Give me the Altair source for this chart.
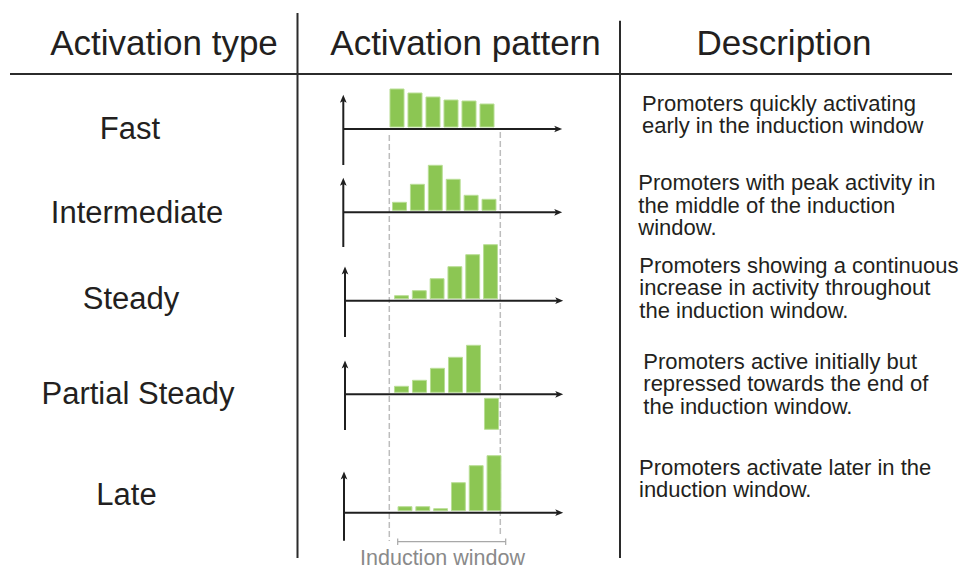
import altair as alt
import pandas as pd

# ---------------- data ----------------
header_labels = ["Activation type", "Activation pattern", "Description"]
activation_types = ["Fast", "Intermediate", "Steady", "Partial Steady", "Late"]
time_steps = [1, 2, 3, 4, 5, 6]
fast_values = [40, 36, 32, 29, 28, 25]
intermediate_values = [10, 28, 47, 33, 17, 13]
steady_values = [5, 10, 22, 34, 46, 56]
partial_steady_values = [8, 14, 26, 37, 49, -35]
late_values = [6, 6, 4, 30, 47, 57]
descriptions = [
    "Promoters quickly activating\nearly in the induction window",
    "Promoters with peak activity in\nthe middle of the induction\nwindow.",
    "Promoters showing a continuous\nincrease in activity throughout\nthe induction window.",
    "Promoters active initially but\nrepressed towards the end of\nthe induction window.",
    "Promoters activate later in the\ninduction window.",
]
window_label = ["Induction window"]

series = [fast_values, intermediate_values, steady_values,
          partial_steady_values, late_values]

# ---------------- layout (page pixels) ----------------
OFF = 8
W, H = 952, 560
FONT = "Liberation Sans"
INK = "#231f20"


def p(v):
    return v - OFF


header_cx = [164, 465.5, 784]
header_base = 55

label_cx = [130, 137, 131, 138, 126.5]
label_base = [139, 222.7, 309.3, 404, 505]
axis_x = [343.3, 343.3, 345, 345, 344]
axis_y = [129, 212.3, 300.7, 394.3, 512.7]
axis_top = [95, 178, 266.7, 360.7, 471.7]
axis_bottom = [165, 247, 337, 430, 540.7]
axis_end = [562, 562, 563, 563, 563]
bar_first = [397, 399.5, 401.5, 401.5, 405]
bar_last = [487, 489, 490.5, 491.5, 494]
desc_x = [642, 638.3, 639.3, 643.3, 639]
desc_base = [110.5, 190, 272.5, 368.5, 474.5]
DESC_SIZE = 22
DESC_LH = 22.6

ARROW = 4        # arrowhead half-length
HALF_BAR = 0.39  # half bar width, in time-step units


def rules(rows, color, width, dash=None):
    df = pd.DataFrame(rows, columns=["x", "x2", "y", "y2"])
    for c in df.columns:
        df[c] = df[c] - OFF
    mk = dict(color=color, strokeWidth=width)
    if dash:
        mk["strokeDash"] = dash
    return alt.Chart(df).mark_rule(**mk).encode(
        x=alt.X("x:Q", scale=None), x2="x2:Q",
        y=alt.Y("y:Q", scale=None), y2="y2:Q")


def texts(txt, xs, ys, size, color=INK, align="center", lh=None):
    df = pd.DataFrame({"t": txt, "x": [p(v) for v in xs], "y": [p(v) for v in ys]})
    mk = dict(font=FONT, fontSize=size, color=color, align=align,
              baseline="alphabetic", lineBreak="\n")
    if lh:
        mk["lineHeight"] = lh
    return alt.Chart(df).mark_text(**mk).encode(
        x=alt.X("x:Q", scale=None), y=alt.Y("y:Q", scale=None), text="t:N")


layers = []

# table grid
layers.append(rules([[10, 952, 74, 74],
                     [297.5, 297.5, 13, 558],
                     [620, 620, 20.7, 558]], "#2b2b2b", 2))

# dashed induction window guides
layers.append(rules([[389.3, 389.3, 135, 541],
                     [500.3, 500.3, 132, 537]], "#bdbdbd", 1.5, [6, 3]))

# induction window bracket
layers.append(rules([[397.7, 505.7, 541.7, 541.7],
                     [397.7, 397.7, 538.5, 545],
                     [505.7, 505.7, 538.5, 545]], "#a8a8a8", 1.2))

# bars per row, through their own scales
for i, vals in enumerate(series):
    df = pd.DataFrame({"step": time_steps, "value": vals})
    base = p(axis_y[i])
    layers.append(
        alt.Chart(df).transform_calculate(
            start="datum.value > 0 ? 2 : -4",
            left=f"datum.step - {HALF_BAR}",
            right=f"datum.step + {HALF_BAR}",
        ).mark_bar(fill="#8cc653", stroke="#b9de96", strokeWidth=1).encode(
            x=alt.X("left:Q", axis=None,
                    scale=alt.Scale(domain=[1, 6], range=[p(bar_first[i]), p(bar_last[i])],
                                    nice=False, zero=False)),
            x2="right:Q",
            y=alt.Y("value:Q", axis=None,
                    scale=alt.Scale(domain=[0, 60], range=[base, base - 60], nice=False, zero=False)),
            y2="start:Q",
        )
    )

# axes lines
axis_rows = []
for i in range(5):
    axis_rows.append([axis_x[i], axis_x[i], axis_top[i] + ARROW, axis_bottom[i]])
    axis_rows.append([axis_x[i], axis_end[i] - ARROW, axis_y[i], axis_y[i]])
layers.append(rules(axis_rows, "#1f1f1f", 2))

# arrowheads
up_df = pd.DataFrame({"x": [p(v) for v in axis_x], "y": [p(v) + ARROW for v in axis_top]})
rt_df = pd.DataFrame({"x": [p(v) - ARROW for v in axis_end], "y": [p(v) for v in axis_y]})
layers.append(alt.Chart(up_df).mark_point(
    shape="M0,-1L0.8,0.9L0,0.45L-0.8,0.9Z", filled=True, size=70, color="#1f1f1f",
    opacity=1, strokeWidth=0).encode(x=alt.X("x:Q", scale=None), y=alt.Y("y:Q", scale=None)))
layers.append(alt.Chart(rt_df).mark_point(
    shape="M1,0L-0.9,0.8L-0.45,0L-0.9,-0.8Z", filled=True, size=70, color="#1f1f1f",
    opacity=1, strokeWidth=0).encode(x=alt.X("x:Q", scale=None), y=alt.Y("y:Q", scale=None)))

# texts
layers.append(texts(header_labels, header_cx, [header_base] * 3, 35))
layers.append(texts(activation_types, label_cx, label_base, 31))
for i in range(5):
    layers.append(texts([descriptions[i]], [desc_x[i]], [desc_base[i]], DESC_SIZE,
                        align="left", lh=DESC_LH))
layers.append(texts(window_label, [442.5], [564.5], 21.5, color="#8a8a8a"))

chart = alt.layer(*layers).resolve_scale(
    x="independent", y="independent"
).properties(
    width=W, height=H, padding=0, autosize=alt.AutoSizeParams(type="none"),
    background="white"
).configure_view(stroke=None)

chart.save("out.html", embed_options={"renderer": "svg", "actions": False})
